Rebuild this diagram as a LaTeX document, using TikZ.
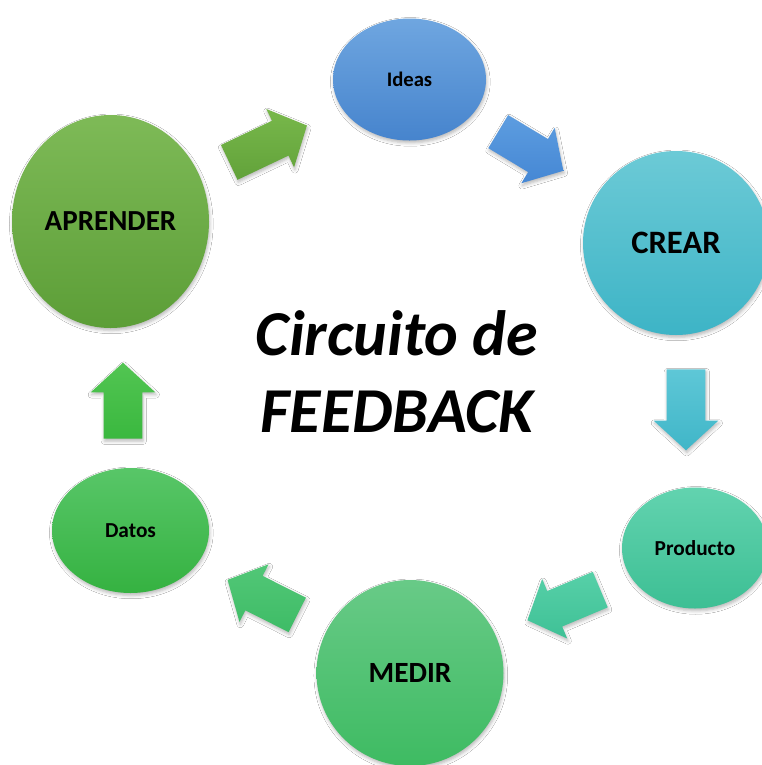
\documentclass[tikz,border=0pt]{standalone}
\usepackage{fontspec}
\setmainfont{Carlito}
\usetikzlibrary{shapes.geometric,shapes.arrows,shadows.blur}
\definecolor{ideasT}{HTML}{6FA6E0}\definecolor{ideasB}{HTML}{4684CD}
\definecolor{crearT}{HTML}{6CCAD6}\definecolor{crearB}{HTML}{3DB4C6}
\definecolor{prodT}{HTML}{62D3AF}\definecolor{prodB}{HTML}{3DBF94}
\definecolor{medirT}{HTML}{68CA87}\definecolor{medirB}{HTML}{3EBB62}
\definecolor{datosT}{HTML}{58C668}\definecolor{datosB}{HTML}{35B241}
\definecolor{aprT}{HTML}{7EBA57}\definecolor{aprB}{HTML}{5C9E37}
\definecolor{aOneT}{HTML}{78B84B}\definecolor{aOneB}{HTML}{62A23A}
\definecolor{aTwoT}{HTML}{5D9DE0}\definecolor{aTwoB}{HTML}{4587D4}
\definecolor{aThrT}{HTML}{5EC7D7}\definecolor{aThrB}{HTML}{40B6C8}
\definecolor{aFouT}{HTML}{57D0A8}\definecolor{aFouB}{HTML}{3FC196}
\definecolor{aFivT}{HTML}{52C777}\definecolor{aFivB}{HTML}{3EBC66}
\definecolor{aSixT}{HTML}{52C552}\definecolor{aSixB}{HTML}{3AB83F}
\begin{document}
\begin{tikzpicture}[x=0.75pt,y=-0.75pt,
  shad/.style={blur shadow={shadow xshift=0.6pt,shadow yshift=-1.8pt,shadow blur radius=2.5pt,shadow opacity=28}},
  bub/.style={ellipse,inner sep=0pt,font=\bfseries,text=black,shad},
  blk/.style={single arrow,anchor=tail,single arrow head extend=13*0.75pt,inner xsep=0pt,inner ysep=19*0.75pt,
    minimum width=0pt,single arrow tip angle=95,shad}]
\useasboundingbox (0,0) rectangle (762,765);
\fill[white] (0,0) rectangle (762,765);
\clip (0,0) rectangle (762,765);

% bubbles
\node[bub,minimum width=153*0.75pt,minimum height=122*0.75pt,top color=ideasT,bottom color=ideasB,
  font=\bfseries\fontsize{15.5}{18}\selectfont] (ideas) at (409.5,79.5) {Ideas};
\node[bub,minimum width=186*0.75pt,minimum height=184*0.75pt,top color=crearT,bottom color=crearB,
  font=\bfseries\fontsize{24.5}{28}\selectfont] (crear) at (676,243) {CREAR};
\node[bub,minimum width=146*0.75pt,minimum height=121*0.75pt,top color=prodT,bottom color=prodB,
  font=\bfseries\fontsize{16}{19}\selectfont] (producto) at (695,548) {Producto};
\node[bub,minimum width=187*0.75pt,minimum height=186*0.75pt,top color=medirT,bottom color=medirB,
  font=\bfseries\fontsize{22}{26}\selectfont] (medir) at (410,673) {MEDIR};
\node[bub,minimum width=157*0.75pt,minimum height=125*0.75pt,top color=datosT,bottom color=datosB,
  font=\bfseries\fontsize{16}{19}\selectfont] (datos) at (130.5,530.5) {Datos};
\node[bub,minimum width=197*0.75pt,minimum height=213*0.75pt,top color=aprT,bottom color=aprB,
  font=\bfseries\fontsize{21.8}{26}\selectfont] (aprender) at (110.5,221.5) {APRENDER};

% block arrows
\node[blk,minimum height=86*0.75pt,rotate=25.4,top color=aOneT,bottom color=aOneB] (a1) at (229,162.5) {};
\node[blk,minimum height=76*0.75pt,rotate=-31,top color=aTwoT,bottom color=aTwoB] (a2) at (498,131.5) {};
\node[blk,minimum height=81*0.75pt,rotate=-90,top color=aThrT,bottom color=aThrB] (a3) at (686,369) {};
\node[blk,minimum height=79*0.75pt,rotate=202.8,top color=aFouT,bottom color=aFouB] (a4) at (600.5,589.5) {};
\node[blk,minimum height=78*0.75pt,rotate=153.3,top color=aFivT,bottom color=aFivB] (a5) at (297.5,615) {};
\node[blk,minimum height=76*0.75pt,rotate=90,top color=aSixT,bottom color=aSixB] (a6) at (123,439) {};

% title
\node[font=\bfseries\itshape\fontsize{48}{56}\selectfont,anchor=base] (t1) at (397,355) {Circuito de};
\node[font=\bfseries\itshape\fontsize{48}{56}\selectfont,anchor=base] (t2) at (397,432) {FEEDBACK};
\end{tikzpicture}
\end{document}
